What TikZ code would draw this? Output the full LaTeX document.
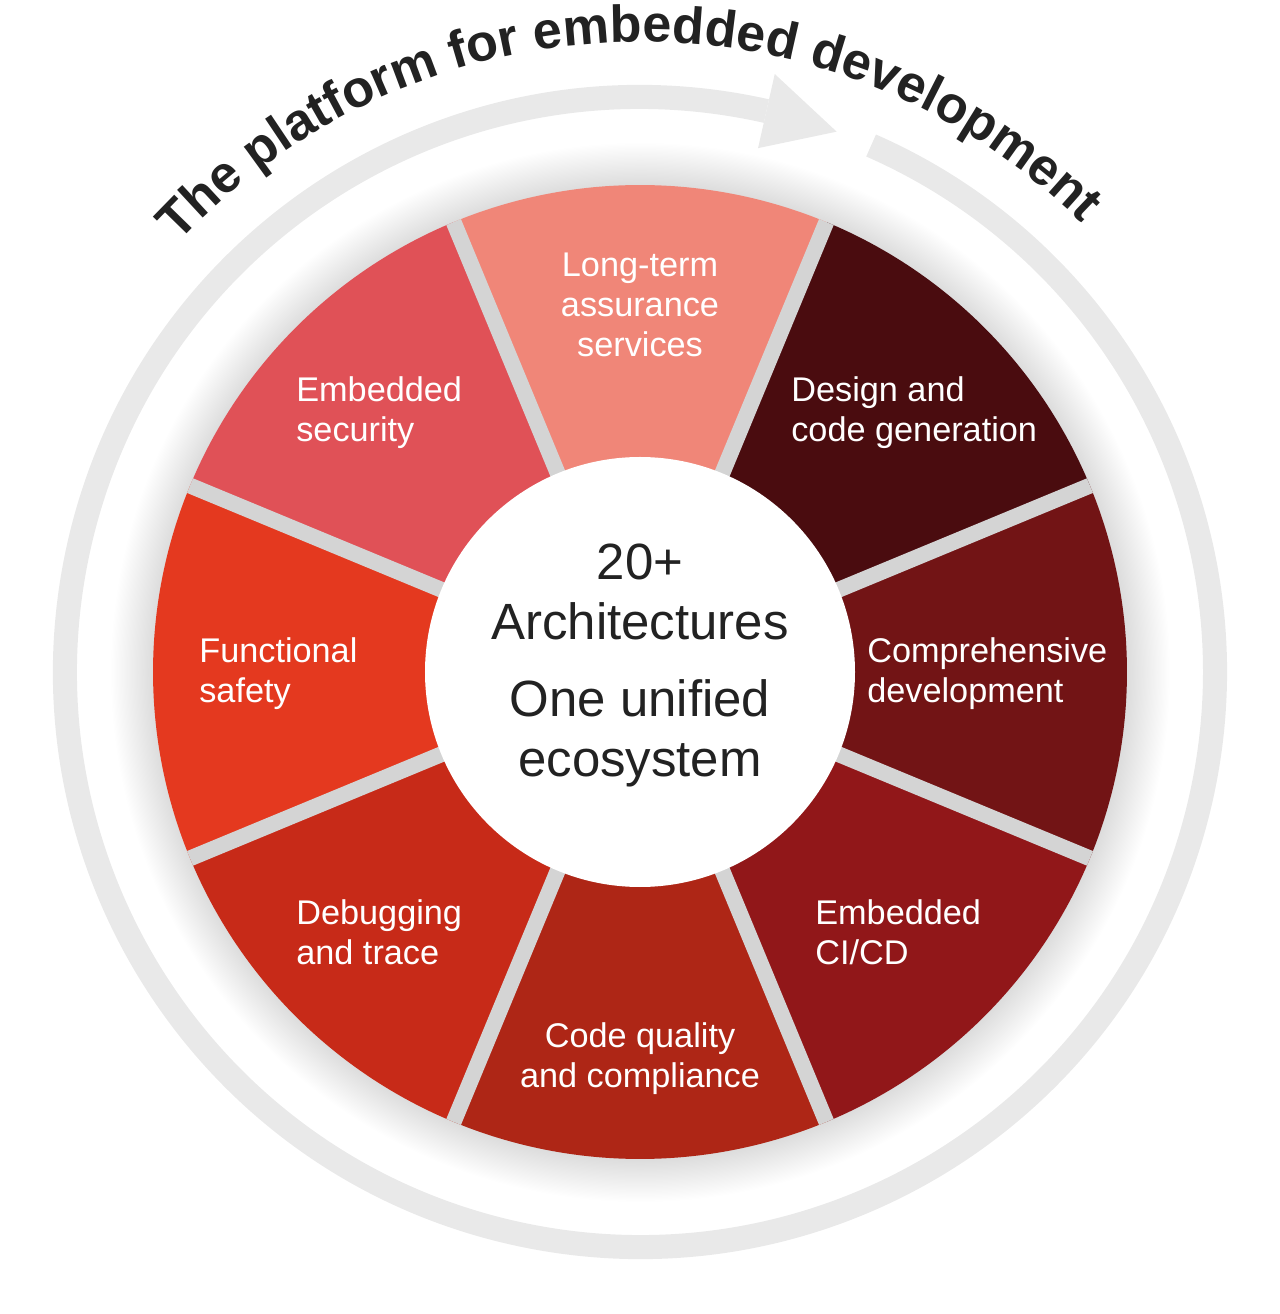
\documentclass[tikz,border=0pt]{standalone}
\usepackage{fontspec}
\setmainfont{Liberation Sans}
\usetikzlibrary{decorations.text}
\definecolor{ringgray}{HTML}{E9E9E9}
\definecolor{gapgray}{HTML}{D4D4D4}
\definecolor{inkblack}{HTML}{222222}
\definecolor{wedgeassure}{HTML}{F08678}
\definecolor{wedgedesign}{HTML}{4A0C0F}
\definecolor{wedgecompre}{HTML}{721415}
\definecolor{wedgecicd}{HTML}{911719}
\definecolor{wedgequality}{HTML}{AE2616}
\definecolor{wedgedebug}{HTML}{C72A18}
\definecolor{wedgesafety}{HTML}{E4391F}
\definecolor{wedgesecurity}{HTML}{E05157}
\pgfdeclareradialshading{halo}{\pgfpoint{0bp}{0bp}}{color(0bp)=(black!14); color(22.9bp)=(black!14); color(25bp)=(white); color(50bp)=(white)}
\newcommand{\titlestyle}{\fontsize{29.6}{30}\selectfont\bfseries\color{inkblack}}

\begin{document}
\begin{tikzpicture}[x=0.02cm,y=0.02cm,
    seglabel/.style={text=white,font=\fontsize{19.5}{22.8}\selectfont,inner sep=0pt},
    hublabel/.style={text=inkblack,font=\fontsize{29}{34}\selectfont,align=center,inner sep=0pt}]
\useasboundingbox (-640,-642) rectangle (640,672);
\shade[shading=halo] (0,0) circle (530);
\foreach \a/\c in {90/wedgeassure,45/wedgedesign,0/wedgecompre,-45/wedgecicd,-90/wedgequality,-135/wedgedebug,180/wedgesafety,135/wedgesecurity}
    \fill[\c] (0,0) -- (\a-22.5:487) arc[start angle=\a-22.5,end angle=\a+22.5,radius=487] -- cycle;
\foreach \a in {22.5,67.5,...,337.5}
    \draw[gapgray,line width=9pt] (0,0) -- (\a:487);
\fill[white] (0,0) circle (215);
\draw[ringgray,line width=13.7pt] (77.3:575) arc[start angle=77.3,end angle=426.3,radius=575];
\fill[ringgray] (77.3:537) -- (77.3:613) -- (70:575) -- cycle;
\path[decorate,decoration={text along path,text align=center,text={|\titlestyle|The platform for embedded development}}]
    (151.25:630) arc[start angle=151.25,end angle=31.25,radius=630];
\node[hublabel] (archs) at (0,80) {20+\\Architectures};
\node[hublabel] (eco) at (0,-61) {One unified\\ecosystem};
\node[seglabel,align=center] (assure) at (0,367) {Long-term\\assurance\\services};
\node[seglabel,align=left,anchor=west] (security) at (-344,259.5) {Embedded\\security};
\node[seglabel,align=left,anchor=west] (design) at (151,259.5) {Design and\\code generation};
\node[seglabel,align=left,anchor=west] (safety) at (-441,-1.5) {Functional\\safety};
\node[seglabel,align=left,anchor=west] (compre) at (227,-1.5) {Comprehensive\\development};
\node[seglabel,align=left,anchor=west] (debug) at (-344,-260) {Debugging\\and trace};
\node[seglabel,align=left,anchor=west] (cicd) at (175,-260) {Embedded\\CI/CD};
\node[seglabel,align=center] (quality) at (0,-386.5) {Code quality\\and compliance};
\end{tikzpicture}
\end{document}
